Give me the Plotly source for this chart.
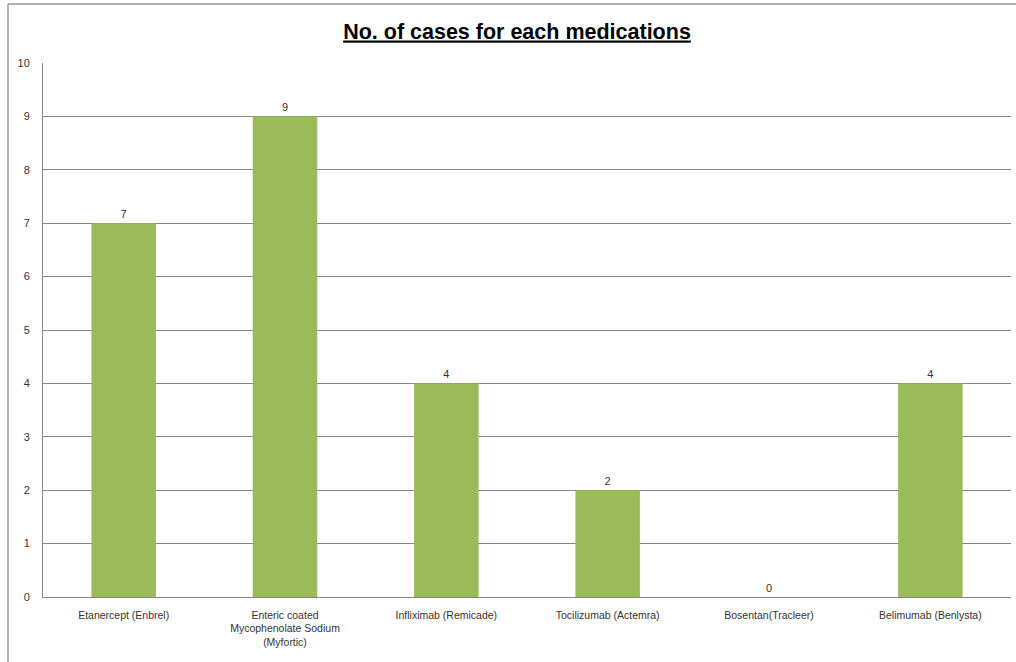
import plotly.graph_objects as go

categories = ["Etanercept (Enbrel)",
              "Enteric coated<br>Mycophenolate Sodium<br>(Myfortic)",
              "Infliximab (Remicade)",
              "Tocilizumab (Actemra)",
              "Bosentan(Tracleer)",
              "Belimumab (Benlysta)"]
cases = [7, 9, 4, 2, 0, 4]

W, H = 1016, 662
L, R, T, B = 43, 5, 63, 65
pw, ph = W - L - R, H - T - B

def px(x):
    return (x - L) / pw

def py(y):
    return (H - B - y) / ph

fig = go.Figure(go.Bar(
    x=categories, y=cases,
    marker=dict(color="#9BBB59", line=dict(width=0)),
    text=[str(v) for v in cases], textposition="outside",
    textfont=dict(family="Liberation Sans", size=11, color="#333333"),
    cliponaxis=False,
))

border = dict(color="#999999", width=1.5)
fig.update_layout(
    width=W, height=H,
    margin=dict(l=L, r=R, t=T, b=B),
    paper_bgcolor="white", plot_bgcolor="white",
    bargap=0.6,
    showlegend=False,
    title=dict(text="<b>No. of cases for each medications</b>",
               x=517 / W, xanchor="center", y=1 - 31 / H, yanchor="middle",
               font=dict(family="Liberation Sans", size=21.5, color="black", lineposition="under")),
    xaxis=dict(showline=True, linecolor="#868686", linewidth=1, ticks="",
               tickfont=dict(family="Liberation Sans", size=10.5, color="#333333"),
               ticklabelstandoff=8),
    yaxis=dict(range=[0, 10], dtick=1, showgrid=True, gridcolor="#868686", gridwidth=1,
               showline=True, linecolor="#868686", linewidth=1, zeroline=False, ticks="",
               tickfont=dict(family="Liberation Sans", size=11, color="#333333"),
               ticklabelstandoff=10),
    shapes=[dict(type="line", xref="paper", yref="paper",
                 x0=px(8), x1=px(8), y0=py(H), y1=py(4), line=border, layer="below"),
            dict(type="line", xref="paper", yref="paper",
                 x0=px(8), x1=px(W), y0=py(4), y1=py(4), line=border, layer="below")],
)

fig.write_html("out.html")
